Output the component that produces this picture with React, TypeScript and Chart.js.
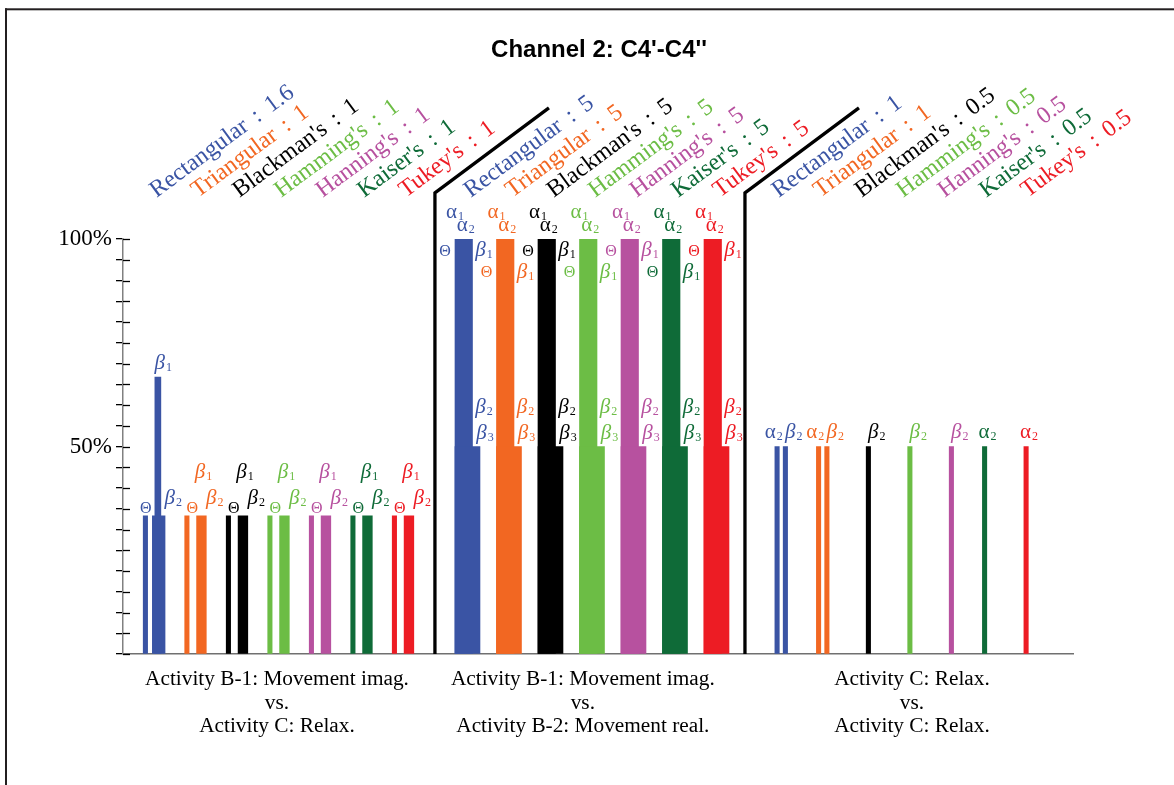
import React, { useEffect, useRef } from "react";
import { Chart, registerables } from "chart.js";

Chart.register(...registerables);

// ---------------- data ----------------
const chartTitle = "Channel 2: C4'-C4''";
const windows = ["Rectangular", "Triangular", "Blackman's", "Hamming's", "Hanning's", "Kaiser's", "Tukey's"];
const windowColors = ["#3a54a4", "#f26722", "#000000", "#6cbd45", "#b7519f", "#0f6b38", "#ed1c24"];
const paramsB1vsC = ["1.6", "1", "1", "1", "1", "1", "1"];
const paramsB1vsB2 = ["5", "5", "5", "5", "5", "5", "5"];
const paramsCvsC = ["1", "1", "0.5", "0.5", "0.5", "0.5", "0.5"];

const groupLabels = [
  ["Activity B-1: Movement imag.", "vs.", "Activity C: Relax."],
  ["Activity B-1: Movement imag.", "vs.", "Activity B-2: Movement real."],
  ["Activity C: Relax.", "vs.", "Activity C: Relax."],
];

// accuracy values (%)
const b1cTheta = [33.3, 33.3, 33.3, 33.3, 33.3, 33.3, 33.3];
const b1cBeta2 = [33.3, 33.3, 33.3, 33.3, 33.3, 33.3, 33.3];
const b1cBeta1 = [66.7, null, null, null, null, null, null];
const b1b2Alpha = [100, 100, 100, 100, 100, 100, 100];
const b1b2Beta = [50, 50, 50, 50, 50, 50, 50];
const ccAlpha2 = [50, 50, null, null, null, 50, 50];
const ccBeta2 = [50, 50, 50, 50, 50, null, null];

const yTickLabels: Record<number, string> = { 100: "100%", 50: "50%" };

// ---------------- layout constants ----------------
const SERIF = '"Liberation Serif", "Times New Roman", serif';
const SANS = '"Liberation Sans", Arial, sans-serif';
const X_MIN = -0.54;
const X_MAX = 22.35;
const G1 = 0;
const G2 = 7.67;
const G3 = 15.22;
const groupCenters = [3.17, 10.54, 18.47];
const headerStarts = [0.27, 7.84, 15.26];
const dividerX = [6.976, 14.446];
const dividerTop = [111.1, 131.6];
const dividerRun = 2.747;

type Lbl = { x: number; y: number; sym: string; sub: string; color: string };

function buildLabels(): Lbl[] {
  const out: Lbl[] = [];
  for (let c = 0; c < 7; c++) {
    const col = windowColors[c];
    // group 1
    out.push({ x: G1 + c + (c === 0 ? 0.01 : 0.13), y: 34, sym: "Θ", sub: "", color: col });
    out.push({ x: G1 + c + (c === 0 ? 0.43 : 0.4), y: b1cBeta1[c] != null ? 68.7 : 42.4, sym: "β", sub: "1", color: col });
    out.push({ x: G1 + c + 0.67, y: 36.1, sym: "β", sub: "2", color: col });
    // group 2
    const upper = c % 2 === 0;
    out.push({ x: G2 + c - 0.21, y: 105.1, sym: "α", sub: "1", color: col });
    out.push({ x: G2 + c + 0.05, y: 102, sym: "α", sub: "2", color: col });
    out.push({ x: G2 + c - 0.45, y: upper ? 96 : 90.8, sym: "Θ", sub: "", color: col });
    out.push({ x: G2 + c + 0.49, y: upper ? 95.9 : 90.6, sym: "β", sub: "1", color: col });
    out.push({ x: G2 + c + 0.49, y: 58, sym: "β", sub: "2", color: col });
    out.push({ x: G2 + c + 0.51, y: 51.8, sym: "β", sub: "3", color: col });
    // group 3
    if (ccAlpha2[c] != null) {
      out.push({ x: G3 + c + (ccBeta2[c] != null ? -0.08 : 0.07), y: 52, sym: "α", sub: "2", color: col });
    }
    if (ccBeta2[c] != null) {
      out.push({ x: G3 + c + 0.4, y: 52, sym: "β", sub: "2", color: col });
    }
  }
  return out;
}

function barDs(x: number, y: number | null, color: string, thickness: number) {
  return {
    type: "bar" as const,
    data: y == null ? [] : [{ x, y }],
    backgroundColor: color,
    borderWidth: 0,
    barThickness: thickness,
    grouped: false,
  };
}

function buildDatasets() {
  const ds: any[] = [];
  for (let c = 0; c < 7; c++) {
    const col = windowColors[c];
    ds.push(barDs(G1 + c, b1cTheta[c], col, 4.4));
    ds.push(barDs(G1 + c + (c === 0 ? 0.32 : 0.35), b1cBeta2[c], col, c === 0 ? 12.7 : 9.7));
    ds.push(barDs(G1 + c + 0.3, b1cBeta1[c], col, 6));
    ds.push(barDs(G2 + c + 0.09, b1b2Beta[c], col, 25));
    ds.push(barDs(G2 + c, b1b2Alpha[c], col, 17.5));
    ds.push(barDs(G3 + c, ccAlpha2[c], col, 4.4));
    ds.push(barDs(G3 + c + 0.2, ccBeta2[c], col, 4.4));
  }
  dividerX.forEach((dx) => {
    ds.push({
      type: "line",
      data: [
        { x: dx, y: 0 },
        { x: dx, y: dividerTop[0] },
        { x: dx + dividerRun, y: dividerTop[1] },
      ],
      borderColor: "#000",
      borderWidth: 3.3,
      pointRadius: 0,
      fill: false,
      tension: 0,
      clip: false,
      borderJoinStyle: "miter",
    });
  });
  return ds;
}

const greekLabels = buildLabels();

function drawGreek(ctx: CanvasRenderingContext2D, x: number, y: number, l: Lbl) {
  const mainFont = l.sym === "Θ" ? `16px ${SERIF}` : l.sym === "β" ? `italic 21px ${SERIF}` : `21px ${SERIF}`;
  const subFont = `12px ${SERIF}`;
  ctx.font = mainFont;
  const w1 = ctx.measureText(l.sym).width;
  ctx.font = subFont;
  const w2 = l.sub ? ctx.measureText(l.sub).width + 1 : 0;
  const left = x - (w1 + w2) / 2;
  ctx.fillStyle = l.color;
  ctx.textAlign = "left";
  ctx.textBaseline = "alphabetic";
  ctx.font = mainFont;
  ctx.fillText(l.sym, left, y);
  if (l.sub) {
    ctx.font = subFont;
    ctx.fillText(l.sub, left + w1 + 1, y + 2);
  }
}

const decorPlugin = {
  id: "decor",
  beforeDraw(chart: any) {
    const ctx: CanvasRenderingContext2D = chart.ctx;
    ctx.save();
    ctx.fillStyle = "#fff";
    ctx.fillRect(0, 0, chart.width, chart.height);
    ctx.fillStyle = "#231f20";
    ctx.fillRect(5, 8.3, chart.width - 5, 2);
    ctx.fillRect(5, 8.3, 2, chart.height);
    ctx.fillStyle = "#000";
    ctx.font = `bold 24px ${SANS}`;
    ctx.textAlign = "center";
    ctx.textBaseline = "alphabetic";
    ctx.fillText(chartTitle, 599, 57);
    ctx.restore();
  },
  afterDraw(chart: any) {
    const ctx: CanvasRenderingContext2D = chart.ctx;
    const xs = chart.scales.x;
    const ys = chart.scales.y;
    ctx.save();
    // inner half of y ticks
    ctx.strokeStyle = "#000";
    ctx.lineWidth = 1.3;
    ys.ticks.forEach((t: any) => {
      const py = Math.round(ys.getPixelForValue(t.value)) + 0.5;
      ctx.beginPath();
      ctx.moveTo(xs.left, py);
      ctx.lineTo(xs.left + 7, py);
      ctx.stroke();
    });
    // rotated header labels: "name : value" with wide colon spacing
    const params = [paramsB1vsC, paramsB1vsB2, paramsCvsC];
    ctx.font = `24px ${SERIF}`;
    ctx.textAlign = "left";
    ctx.textBaseline = "alphabetic";
    const gap = 10;
    params.forEach((pArr, g) => {
      pArr.forEach((p, c) => {
        const px = xs.getPixelForValue(headerStarts[g] + c);
        const py = ys.getPixelForValue(109.9);
        ctx.save();
        ctx.translate(px, py);
        ctx.rotate((-36.5 * Math.PI) / 180);
        ctx.fillStyle = windowColors[c];
        const name = windows[c];
        ctx.fillText(name, 0, 0);
        let off = ctx.measureText(name).width + gap;
        ctx.fillText(":", off, 0);
        off += ctx.measureText(":").width + gap;
        ctx.fillText(p, off, 0);
        ctx.restore();
      });
    });
    // greek feature labels
    greekLabels.forEach((l) => {
      drawGreek(ctx, xs.getPixelForValue(l.x), ys.getPixelForValue(l.y), l);
    });
    ctx.restore();
  },
};

export default function App() {
  const ref = useRef<HTMLCanvasElement>(null);
  useEffect(() => {
    const chart = new Chart(ref.current as HTMLCanvasElement, {
      type: "bar",
      data: { datasets: buildDatasets() },
      options: {
        responsive: false,
        animation: false,
        events: [],
        layout: { padding: { top: 239, right: 101, left: 0, bottom: 0 } },
        plugins: { legend: { display: false }, title: { display: false }, tooltip: { enabled: false } },
        scales: {
          x: {
            type: "linear",
            offset: false,
            min: X_MIN,
            max: X_MAX,
            afterBuildTicks: (s: any) => {
              s.ticks = groupCenters.map((v) => ({ value: v }));
            },
            afterFit: (s: any) => {
              s.height = 131;
            },
            ticks: {
              autoSkip: false,
              maxRotation: 0,
              minRotation: 0,
              padding: 14,
              color: "#000",
              font: { family: SERIF, size: 21.3, lineHeight: 1.1 },
              callback: (_v: any, i: number) => groupLabels[i],
            },
            grid: { display: false, drawTicks: false },
            border: { display: true, color: "#707070", width: 1.5 },
          },
          y: {
            min: 0,
            max: 100,
            afterFit: (s: any) => {
              s.width = 123;
            },
            ticks: {
              stepSize: 5,
              autoSkip: false,
              padding: 4,
              color: "#000",
              font: { family: SERIF, size: 23 },
              callback: (v: any) => yTickLabels[v] ?? "",
            },
            grid: { drawOnChartArea: false, drawTicks: true, tickLength: 7, color: "#000", lineWidth: 1.3 },
            border: { display: true, color: "#808080", width: 1.5 },
          },
        },
      } as any,
      plugins: [decorPlugin],
    });
    return () => chart.destroy();
  }, []);
  return (
    <div style={{ position: "fixed", left: 0, top: 0, width: 1174, height: 785, background: "#fff" }}>
      <canvas ref={ref} width={1174} height={785} style={{ display: "block", width: 1174, height: 785 }} />
    </div>
  );
}
